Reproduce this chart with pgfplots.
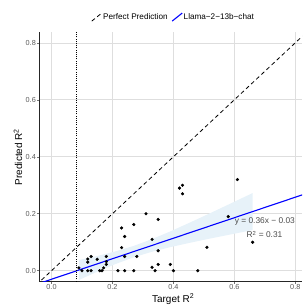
\documentclass[border=0pt]{standalone}
\usepackage{pgfplots}
\pgfplotsset{compat=1.18}
\usepackage{fontspec}
\setmainfont{Liberation Sans}
\definecolor{bandblue}{RGB}{231,242,249}
\definecolor{gridgray}{RGB}{222,222,222}
\begin{document}
\begin{tikzpicture}
\begin{axis}[
  at={(39bp,25.3bp)}, anchor=south west,
  width=263bp, height=249.7bp, scale only axis,
  xmin=-0.041, xmax=0.822, ymin=-0.0386, ymax=0.838,
  axis x line*=bottom, axis y line*=left,
  axis line style={black!85, line width=0.9bp, -},
  xtick={0,0.2,0.4,0.6,0.8}, ytick={0,0.2,0.4,0.6,0.8},
  xticklabels={0.0,0.2,0.4,0.6,0.8}, yticklabels={0.0,0.2,0.4,0.6,0.8},
  tick align=outside, major tick length=2bp,
  tick style={black!55, line width=0.5bp},
  grid=major, major grid style={gridgray, line width=0.6bp},
  ticklabel style={font=\fontsize{7.3}{8}\selectfont, text=black!65},
  xticklabel style={inner sep=0.3bp},
  yticklabel style={inner sep=1bp},
  xlabel={Target R\textsuperscript{2}}, ylabel={Predicted R\textsuperscript{2}},
  label style={font=\fontsize{9.2}{10}\selectfont},
  every axis x label/.style={at={(axis description cs:0.51,-0.069)}, anchor=center},
  every axis y label/.style={at={(axis description cs:-0.0798,0.5)}, rotate=90, anchor=center},
  legend style={at={(axis description cs:0.51,1)}, anchor=south, yshift=10bp,
    draw=none, fill=none, font=\fontsize{8.2}{9}\selectfont,
    /tikz/every even column/.append style={column sep=3bp},
    inner sep=0pt, nodes={inner sep=1bp}},
  legend columns=2,
  legend image code/.code={\draw[#1] (0bp,-4bp) -- (10bp,4bp);},
]
% confidence band
\addplot[draw=none, fill=bandblue, forget plot] coordinates {
(0.09,0.0374) (0.15,0.0516) (0.21,0.0678) (0.27,0.0872) (0.33,0.1110) (0.39,0.1380)
(0.45,0.1670) (0.51,0.1966) (0.57,0.2269) (0.66,0.2726)
(0.66,0.1426) (0.57,0.1235) (0.51,0.1106) (0.45,0.0970) (0.39,0.0828) (0.33,0.0666)
(0.27,0.0472) (0.21,0.0234) (0.15,-0.0036) (0.09,-0.0326)} -- cycle;
% perfect prediction
\addplot[black, dash pattern=on 4bp off 3bp, line width=0.8bp] coordinates {(-0.1,-0.1) (0.9,0.9)};
\addlegendentry{Perfect Prediction}
% regression line
\addplot[blue, line width=1.1bp] coordinates {(-0.06,-0.0516) (0.85,0.276)};
\addlegendentry{Llama−2−13b−chat}
% threshold
\addplot[black, dash pattern=on 1bp off 1.2bp, line width=0.7bp, forget plot] coordinates {(0.08,-0.1) (0.08,1)};
% points
\addplot[only marks, mark=*, mark size=1.4bp, black, forget plot] coordinates {
(0.09,0.01) (0.10,0.0) (0.119,0.03) (0.119,0.041) (0.13,0.05) (0.119,0.0) (0.13,0.0)
(0.15,0.04) (0.158,0.0) (0.166,0.0) (0.171,0.01) (0.18,0.022) (0.18,0.032) (0.18,0.05)
(0.218,0.0) (0.24,0.0) (0.27,0.0) (0.23,0.081) (0.24,0.05) (0.23,0.15) (0.24,0.12)
(0.27,0.162) (0.28,0.05) (0.31,0.2) (0.35,0.18) (0.33,0.11) (0.35,0.07) (0.33,0.012)
(0.34,0.0) (0.35,0.022) (0.39,0.022) (0.40,0.0) (0.48,0.0) (0.51,0.082)
(0.42,0.29) (0.43,0.30) (0.43,0.27) (0.61,0.32) (0.58,0.19) (0.66,0.10)};
\node[font=\fontsize{8.4}{9}\selectfont, text=black!70] at (axis cs:0.700,0.174) {y = 0.36x − 0.03};
\node[font=\fontsize{8.4}{9}\selectfont, text=black!70] at (axis cs:0.699,0.127) {R\textsuperscript{2} = 0.31};
\end{axis}
\pgfresetboundingbox
\path[use as bounding box] (0,0) rectangle (303bp,307bp);
\end{tikzpicture}
\end{document}
